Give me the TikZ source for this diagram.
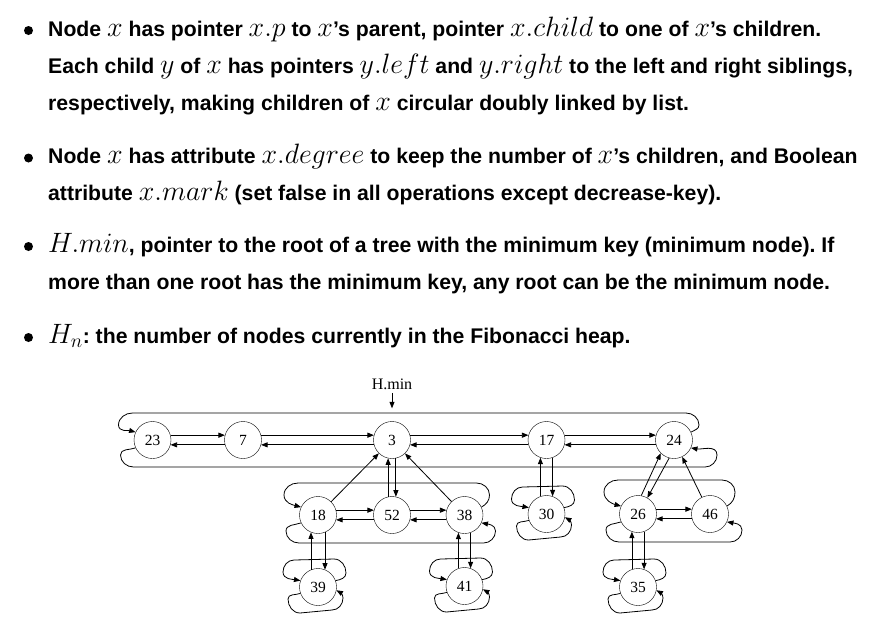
\RequirePackage{fix-cm}
\documentclass[tikz,border=0pt]{standalone}
\usepackage[no-math]{fontspec}
\setmainfont{Liberation Sans}
\newfontfamily\keyfont{Liberation Serif}
\DeclareMathSizes{21.2}{28}{19.5}{15}
\frenchspacing
\usetikzlibrary{arrows.meta}

\tikzset{
  line/.style={anchor=base west, inner sep=0pt, font=\bfseries\fontsize{21.2}{26}\selectfont},
  dot/.style={circle, fill, minimum size=9pt, inner sep=0pt},
  key/.style={circle, draw, minimum size=37pt, inner sep=0pt, font=\keyfont\fontsize{15.5}{15.5}\selectfont},
  ptr/.style={line width=0.8pt, -{Triangle[length=6.5pt,width=5pt]}},
}

% left node, right node, top gap, bottom gap, right reach
\newcommand{\ringlinks}[5]{%
  \draw [ptr] (#2.25) to[out=30,in=-90] ([shift={(25,{#3-12})}]#2.center)
    to[out=90,in=0] ([shift={(12,#3)}]#2.center) -- ([shift={(-20,#3)}]#1.center)
    to[out=180,in=90] ([shift={(-34,{#3-12})}]#1.center) to[out=-90,in=165] (#1.155);
  \draw [ptr] (#1.205) to[out=200,in=90] ([shift={(-32,{12-#4})}]#1.center)
    to[out=-90,in=180] ([shift={(-19,-#4)}]#1.center) -- ([shift={({#5-12},-#4)}]#2.center)
    to[out=0,in=-90] ([shift={(#5,{12-#4})}]#2.center) to[out=90,in=-10] (#2.-25);
}

% a lone child points to itself both ways
\newcommand{\leafloops}[1]{%
  \draw [ptr] (#1.20) to[out=10,in=-90] ([shift={(28,14)}]#1.center)
    to[out=90,in=0] ([shift={(16,28)}]#1.center) -- ([shift={(-24,27)}]#1.center)
    to[out=180,in=90] ([shift={(-35,15)}]#1.center) to[out=-90,in=170] (#1.160);
  \draw [ptr] (#1.200) to[out=200,in=90] ([shift={(-30,-12)}]#1.center)
    to[out=-90,in=180] ([shift={(-18,-26)}]#1.center) -- ([shift={(14,-23)}]#1.center)
    to[out=0,in=-90] ([shift={(25,-11)}]#1.center) to[out=90,in=-30] (#1.-10);
}

\newcommand{\sibs}[2]{%
  \draw [ptr] (#1.15) -- (#2.165);
  \draw [ptr] (#2.195) -- (#1.-15);
}

\begin{document}
\begin{tikzpicture}[x=1pt, y=1pt]
    \path [use as bounding box] (0,0) rectangle (893,-633);

    \node[dot] (b1) at (28.5,-30.5) {};
    \node[line] (l1) at (48,-36) {Node $x$ has pointer $x.p$ to $x$'s parent, pointer $x.child$ to one of $x$'s children.};
    \node[line] (l2) at (48,-73) {Each child $y$ of $x$ has pointers $y.left$ and $y.right$ to the left and right siblings,};
    \node[line] (l3) at (48,-110) {respectively, making children of $x$ circular doubly linked by list.};

    \node[dot] (b2) at (28.5,-158) {};
    \node[line] (l4) at (48,-163.5) {Node $x$ has attribute $x.degree$ to keep the number of $x$'s children, and Boolean};
    \node[line] (l5) at (48,-200) {attribute $x.mark$ (set false in all operations except decrease-key).};

    \node[dot] (b3) at (28.5,-246.5) {};
    \node[line] (l6) at (48,-252) {$H.min$, pointer to the root of a tree with the minimum key (minimum node). If};
    \node[line] (l7) at (48,-289) {more than one root has the minimum key, any root can be the minimum node.};

    \node[dot] (b4) at (28.5,-337.5) {};
    \node[line] (l8) at (48,-343) {$H_n$: the number of nodes currently in the Fibonacci heap.};

    \node[font=\keyfont\fontsize{16}{16}\selectfont] (hmin) at (392,-384) {H.min};

    \node[key] (n23) at (152.5,-440) {23};
    \node[key] (n7) at (243,-440) {7};
    \node[key] (n3) at (392,-440) {3};
    \node[key] (n17) at (546.5,-440) {17};
    \node[key] (n24) at (674,-440) {24};

    \node[key] (n18) at (318,-515) {18};
    \node[key] (n52) at (392,-515) {52};
    \node[key] (n38) at (464.5,-515) {38};
    \node[key] (n30) at (546.5,-514) {30};
    \node[key] (n26) at (638,-514) {26};
    \node[key] (n46) at (710,-514) {46};

    \node[key] (n39) at (318,-587) {39};
    \node[key] (n41) at (464.5,-586) {41};
    \node[key] (n35) at (638,-587) {35};

    \draw [ptr, shorten >=13pt] (hmin) -- (n3);

    \sibs{n23}{n7}
    \sibs{n7}{n3}
    \sibs{n3}{n17}
    \sibs{n17}{n24}
    \ringlinks{n23}{n24}{27}{27}{43}

    \sibs{n18}{n52}
    \sibs{n52}{n38}
    \ringlinks{n18}{n38}{32}{28}{31}
    \sibs{n26}{n46}
    \ringlinks{n26}{n46}{34}{28}{32}

    \draw [ptr] (n52.102) -- (n3.258);
    \draw [ptr] (n3.282) -- (n52.78);
    \draw [ptr] (n18) -- (n3);
    \draw [ptr] (n38) -- (n3);

    \draw [ptr] (n30.109) -- (n17.251);
    \draw [ptr] (n17.289) -- (n30.71);

    \draw [ptr] (n26.80) -- (n24.225);
    \draw [ptr] (n24.255) -- (n26.60);
    \draw [ptr] (n46) -- (n24);

    \draw [ptr] (n39.112) -- (n18.248);
    \draw [ptr] (n18.292) -- (n39.68);
    \draw [ptr] (n41.109) -- (n38.251);
    \draw [ptr] (n38.289) -- (n41.71);
    \draw [ptr] (n35.109) -- (n26.251);
    \draw [ptr] (n26.289) -- (n35.71);

    \leafloops{n39}
    \leafloops{n41}
    \leafloops{n30}
    \leafloops{n35}
\end{tikzpicture}
\end{document}
